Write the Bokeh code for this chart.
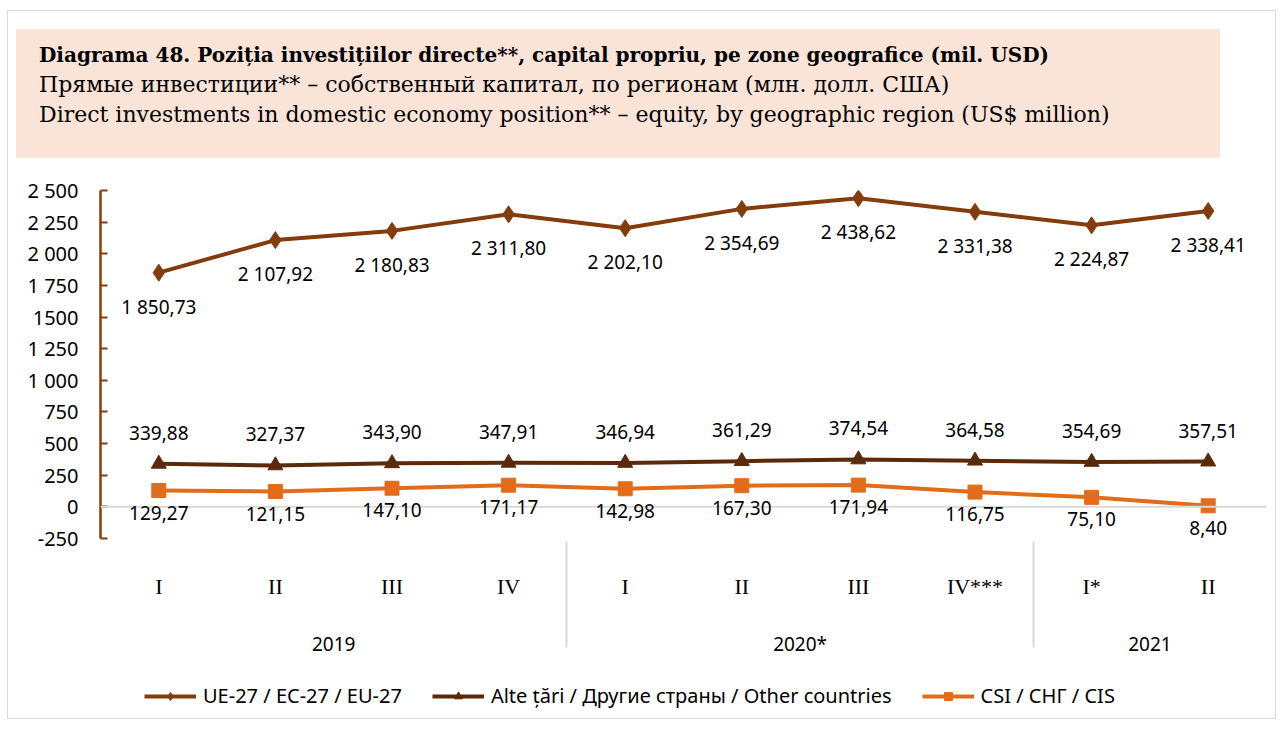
from bokeh.plotting import figure
from bokeh.models import (FactorRange, ColumnDataSource, Span, Legend, LegendItem,
                          FixedTicker, LabelSet, Div, Range1d)
from bokeh.layouts import column
from bokeh.core.properties import value
from bokeh.embed import file_html
from bokeh.resources import INLINE

years = ["2019", "2019", "2019", "2019", "2020*", "2020*", "2020*", "2020*", "2021", "2021"]
quarters = ["I", "II", "III", "IV", "I", "II", "III", "IV***", "I*", "II"]
ue = [1850.73, 2107.92, 2180.83, 2311.80, 2202.10, 2354.69, 2438.62, 2331.38, 2224.87, 2338.41]
alte = [339.88, 327.37, 343.90, 347.91, 346.94, 361.29, 374.54, 364.58, 354.69, 357.51]
csi = [129.27, 121.15, 147.10, 171.17, 142.98, 167.30, 171.94, 116.75, 75.10, 8.40]
y_ticks = [-250, 0, 250, 500, 750, 1000, 1250, 1500, 1750, 2000, 2250, 2500]

title1 = "Diagrama 48. Poziția investițiilor directe**, capital propriu, pe zone geografice (mil. USD)"
title2 = "Прямые инвестиции** – собственный капитал, по регионам (млн. долл. США)"
title3 = "Direct investments in domestic economy position** – equity, by geographic region (US$ million)"
names = ["UE-27 / EC-27 / EU-27", "Alte țări / Другие страны / Other countries", "CSI / СНГ / CIS"]
colors = ["#843C0C", "#5A2A0B", "#E36C1A"]

FONT = "Noto Sans"
SERIF = "DejaVu Serif"

def fmt(v):
    s = f"{v:,.2f}"
    return s.replace(",", " ").replace(".", ",")

W = 1267
header = Div(
    text=(f'<div style="box-sizing:border-box;margin:18px 0 0 8px;width:1204px;height:129px;'
          f'background:#FAE4D8;padding:11px 0 0 23px;font-family:\'{SERIF}\';font-size:22px;'
          f'line-height:30px;color:black;white-space:nowrap;">'
          f'<b style="font-size:20px">{title1}</b><br>{title2}<br>{title3}</div>'),
    width=W, height=160, margin=0)

factors = list(zip(years, quarters))
x_range = FactorRange(*factors, group_padding=0, factor_padding=0, range_padding=0)

H = 501
p = figure(width=W, height=H, x_range=x_range, y_range=(-250, 2500),
           output_backend="svg", toolbar_location=None, margin=0,
           min_border_left=92, min_border_right=9, min_border_top=19, min_border_bottom=134)
p.outline_line_color = None
p.xgrid.grid_line_color = None
p.ygrid.grid_line_color = None
p.background_fill_color = "white"
p.border_fill_color = "white"

# y axis
p.yaxis.ticker = FixedTicker(ticks=y_ticks)
ov = {}
for t in y_ticks:
    ov[t] = f"{t:,}".replace(",", " ") if abs(t) >= 1000 else str(t)
ov[1500] = "1500"
p.yaxis.major_label_overrides = ov
p.yaxis.axis_line_color = colors[0]
p.yaxis.axis_line_width = 2.5
p.yaxis.major_tick_line_color = colors[0]
p.yaxis.major_tick_line_width = 2
p.yaxis.major_tick_in = 7
p.yaxis.major_tick_out = 0
p.yaxis.minor_tick_line_color = None
p.yaxis.major_label_standoff = 22
p.yaxis.major_label_text_font = FONT
p.yaxis.major_label_text_font_size = "20px"
p.yaxis.major_label_text_color = "black"

# x axis
xa = p.xaxis[0]
xa.axis_line_color = None
xa.major_tick_line_color = None
xa.major_label_text_font = "Liberation Serif"
xa.major_label_text_font_size = "22px"
xa.major_label_text_color = "black"
xa.major_label_standoff = 29
xa.group_text_font = FONT
xa.group_text_font_size = "19px"
xa.group_text_font_style = "normal"
xa.group_text_color = "black"
xa.separator_line_color = "#d9d9d9"
xa.separator_line_width = 2

p.add_layout(Span(location=0, dimension="width", line_color="#d9d9d9", line_width=2))

# legend figure (legend needs to sit outside the chart frame)
leg = figure(width=W, height=46, x_range=FactorRange(*factors), y_range=Range1d(10000, 10001),
             output_backend="svg", toolbar_location=None, margin=0,
             min_border_left=0, min_border_right=0, min_border_top=0, min_border_bottom=0)
leg.axis.visible = False
leg.grid.grid_line_color = None
leg.outline_line_color = None

series = [ue, alte, csi]
markers = ["diamond", "triangle", "square"]
msizes = [17, 15, 14]
offsets = [-34, 31, -22]
items = []
for i, (vals, name) in enumerate(zip(series, names)):
    src = ColumnDataSource(dict(x=factors, y=vals, lab=[fmt(v) for v in vals]))
    p.line("x", "y", source=src, line_color=colors[i], line_width=4)
    p.scatter("x", "y", source=src, marker=markers[i], size=msizes[i],
              fill_color=colors[i], line_color=colors[i])
    p.add_layout(LabelSet(x="x", y="y", text="lab", source=src, y_offset=offsets[i],
                          text_align="center", text_baseline="middle",
                          text_font=value(FONT), text_font_size="19px", text_color="black"))
    lr = leg.line("x", "y", source=src, line_color=colors[i], line_width=4)
    sr = leg.scatter("x", "y", source=src, marker=markers[i], size=msizes[i] - 2,
                     fill_color=colors[i], line_color=colors[i])
    items.append(LegendItem(label=name, renderers=[lr, sr]))

legend = Legend(items=items, orientation="horizontal", location=(44, 9),
                label_text_font=FONT, label_text_font_size="20px",
                label_text_color="black", glyph_width=52, glyph_height=20,
                spacing=30, padding=0, margin=0, label_standoff=7,
                border_line_color=None, background_fill_alpha=0)
leg.add_layout(legend, "center")

layout = column(header, p, leg, spacing=0, margin=(10, 0, 0, 7),
                styles={"border": "1px solid #d9d9d9"})

open("out.html", "w").write(file_html(layout, INLINE))
